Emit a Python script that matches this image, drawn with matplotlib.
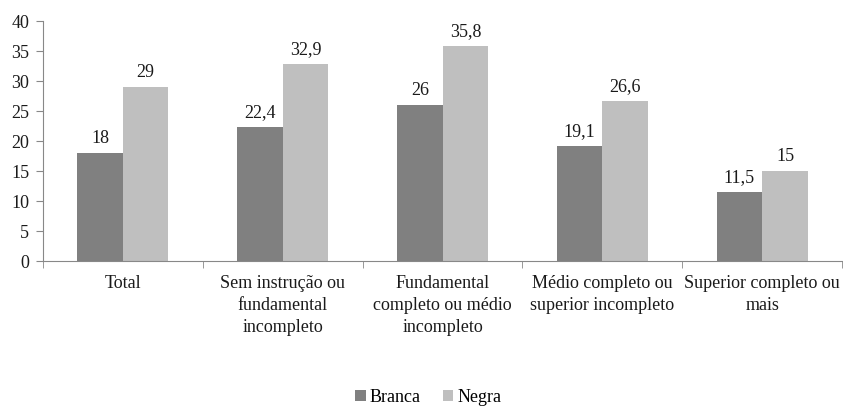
import matplotlib.pyplot as plt
import numpy as np

plt.rcParams['font.family'] = ['Liberation Serif', 'DejaVu Serif']

# dados
categorias = ['Total', 'Sem instrução ou\nfundamental\nincompleto',
              'Fundamental\ncompleto ou médio\nincompleto',
              'Médio completo ou\nsuperior incompleto',
              'Superior completo ou\nmais']
branca = [18, 22.4, 26, 19.1, 11.5]
negra = [29, 32.9, 35.8, 26.6, 15]
y_ticks = [0, 5, 10, 15, 20, 25, 30, 35, 40]

fig = plt.figure(figsize=(8.43, 4.08), dpi=100)
ax = fig.add_axes([0.051, 0.36, 0.948, 0.5885])

x = np.arange(len(categorias))
w = 0.285
b1 = ax.bar(x - w / 2, branca, w, color='#808080', label='Branca')
b2 = ax.bar(x + w / 2, negra, w, color='#BFBFBF', label='Negra')

def fmt(v):
    return ('%g' % v).replace('.', ',')

for bars, vals in ((b1, branca), (b2, negra)):
    for r, v in zip(bars, vals):
        ax.text(r.get_x() + r.get_width() / 2, v + 1.0, fmt(v),
                ha='center', va='bottom', fontsize=13, color='#1a1a1a')

ax.set_xlim(-0.5, len(categorias) - 0.5)
ax.set_ylim(0, 40)
ax.set_yticks(y_ticks)
ax.set_yticklabels([str(t) for t in y_ticks], fontsize=13, color='#1a1a1a')
ax.set_xticks(x)
ax.set_xticklabels(categorias, fontsize=13, linespacing=1.4, color='#1a1a1a')
ax.set_xticks(np.arange(len(categorias) + 1) - 0.5, minor=True)
ax.tick_params(axis='x', which='major', length=0, pad=10)
ax.tick_params(axis='x', which='minor', length=5, color='#888888')
ax.tick_params(axis='y', length=5, color='#888888', pad=5)

for s in ['top', 'right']:
    ax.spines[s].set_visible(False)
for s in ['left', 'bottom']:
    ax.spines[s].set_color('#888888')

fig.legend(loc='lower center', bbox_to_anchor=(0.508, -0.035), ncol=2,
           frameon=False, fontsize=13, handlelength=0.6, handleheight=0.6,
           handletextpad=0.2, columnspacing=1.2)

fig.savefig('out.png', dpi=100)
